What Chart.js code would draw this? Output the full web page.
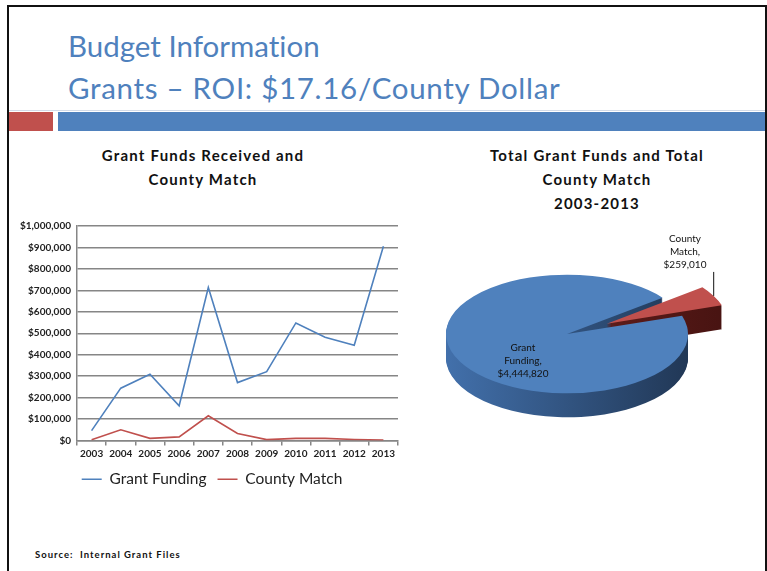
<!DOCTYPE html>
<html>
<head>
<meta charset="utf-8">
<script src="https://cdn.jsdelivr.net/npm/chart.js@4.4.1/dist/chart.umd.min.js"></script>
<style>
  body { margin: 0; width: 767px; height: 571px; background: #fff; position: relative; overflow: hidden; font-family: Lato, sans-serif; font-variant-ligatures: none; }
  #frame { position: absolute; left: 7px; top: 5px; width: 756px; height: 600px; border: 2px solid #111; border-bottom: none; }
  .title { position: absolute; left: 68px; color: #4f81bd; font-size: 29.5px; line-height: 34px; white-space: nowrap; }
  #barRed { position: absolute; left: 9px; top: 112px; width: 44px; height: 19px; background: #c0504d; }
  #barBlue { position: absolute; left: 58px; top: 112px; width: 707px; height: 19px; background: #4f81bd; }
  #barLine { position: absolute; left: 9px; top: 110px; width: 756px; height: 1px; background: #d3dbe8; }
  .ctitle { position: absolute; text-align: center; font-weight: bold; font-size: 15px; letter-spacing: 1.2px; line-height: 24px; color: #111; }
  .plabel { position: absolute; text-align: center; font-size: 10px; line-height: 13px; color: #111; }
  #source { position: absolute; left: 35px; top: 549px; font-size: 9.5px; letter-spacing: 1px; font-weight: bold; color: #111; white-space: pre; }
  #lineBox { position: absolute; left: 0px; top: 214px; width: 415px; height: 285px; }
  #pieBox { position: absolute; left: 420px; top: 200px; width: 340px; height: 270px; }
</style>
</head>
<body>
<div id="frame"></div>
<div class="title" style="top:29px">Budget Information</div>
<div class="title" style="top:71px; letter-spacing:0.7px">Grants – ROI: $17.16/County Dollar</div>
<div id="barLine"></div>
<div id="barRed"></div>
<div id="barBlue"></div>

<div class="ctitle" style="left:50px; width:306px; top:143px">Grant Funds Received and<br>County Match</div>
<div class="ctitle" style="left:457px; width:280px; top:143px">Total Grant Funds and Total<br>County Match<br>2003-2013</div>

<div id="lineBox"><canvas id="lineChart"></canvas></div>
<div id="pieBox"><canvas id="pieChart"></canvas></div>
<div class="plabel" id="lblGrant" style="left:483px; top:341px; width:80px"></div>
<div class="plabel" id="lblCounty" style="left:645px; top:232px; width:80px"></div>

<div id="source">Source:  Internal Grant Files</div>

<script>
// yearly values
const years = ['2003', '2004', '2005', '2006', '2007', '2008', '2009', '2010', '2011', '2012', '2013'];
const grantFunding = [46000, 244000, 309000, 162000, 713000, 270000, 321000, 548000, 481000, 444000, 906000];
const countyMatch = [3000, 50000, 10000, 17000, 115000, 33000, 4000, 10000, 10000, 5000, 2000];

// totals shown in the pie
const pieNames = ['Grant Funding', 'County Match'];
const pieTotals = [4444820, 259010];

const blue = '#4f81bd';
const red = '#c0504d';
const gridGray = '#868686';

function money(v) {
    return '$' + v.toLocaleString('en-US');
}

// let the y labels run into the left padding instead of being clipped
const wideYLabels = {
    id: 'wideYLabels',
    afterLayout(chart) {
        chart.scales.y.left = 0;
    }
};

new Chart(document.getElementById('lineChart'), {
    type: 'line',
    data: {
        labels: years,
        datasets: [
            { label: 'Grant Funding', data: grantFunding, borderColor: blue, backgroundColor: blue, borderWidth: 1.6, pointRadius: 0, tension: 0 },
            { label: 'County Match', data: countyMatch, borderColor: red, backgroundColor: red, borderWidth: 1.6, pointRadius: 0, tension: 0 }
        ]
    },
    options: {
        responsive: true,
        maintainAspectRatio: false,
        animation: false,
        events: [],
        layout: { padding: { top: 8, right: 17, bottom: 2, left: 26 } },
        scales: {
            x: {
                offset: true,
                grid: { display: true, drawOnChartArea: false, drawTicks: true, tickLength: 5, offset: true, color: gridGray, lineWidth: 1.5 },
                border: { color: gridGray, width: 1.5 },
                ticks: { color: '#222', font: { family: 'Lato', size: 10, weight: 'bold' }, padding: 2, maxRotation: 0, autoSkip: false },
                afterFit: s => { s.height = 20; }
            },
            y: {
                min: 0,
                max: 1000000,
                ticks: { stepSize: 100000, callback: v => money(v), color: '#222', font: { family: 'Lato', size: 10, weight: 'bold' }, padding: 6 },
                grid: { color: gridGray, lineWidth: 1.5, drawTicks: false },
                border: { color: gridGray, width: 1.5 },
                afterFit: s => { s.width = 51; }
            }
        },
        plugins: {
            legend: {
                position: 'bottom',
                labels: { usePointStyle: true, pointStyle: 'line', pointStyleWidth: 20, color: '#222', font: { family: 'Lato', size: 15.5 }, padding: 11 }
            },
            tooltip: { enabled: false }
        }
    },
    plugins: [wideYLabels]
});

// pie drawn flat by Chart.js, then squashed and given a side wall
const squash = 0.49;
const depth = 24;
const explode = 45;
const sideColors = [['#4270ab', '#1b2d46'], ['#7a2624', '#461311']];

const pie3d = {
    id: 'pie3d',
    afterDatasetsUpdate(chart) {
        const arc = chart.getDatasetMeta(0).data[1];
        const mid = (arc.startAngle + arc.endAngle) / 2;
        arc.x += Math.cos(mid) * explode;
        arc.y += Math.sin(mid) * explode;
    },
    beforeDatasetsDraw(chart) {
        const ctx = chart.ctx;
        const area = chart.chartArea;
        const cx = (area.left + area.right) / 2, cy = (area.top + area.bottom) / 2;
        const arcs = chart.getDatasetMeta(0).data;
        arcs.forEach((arc, i) => {
            for (let d = depth; d > 0; d--) {
                ctx.save();
                ctx.translate(cx, cy + d);
                ctx.scale(1, squash);
                ctx.translate(-cx, -cy);
                const g = ctx.createLinearGradient(cx - arc.outerRadius, 0, cx + arc.outerRadius + explode, 0);
                g.addColorStop(0, sideColors[i][0]);
                g.addColorStop(1, sideColors[i][1]);
                ctx.beginPath();
                ctx.moveTo(arc.x, arc.y);
                ctx.arc(arc.x, arc.y, arc.outerRadius, arc.startAngle, arc.endAngle);
                ctx.closePath();
                ctx.fillStyle = g;
                ctx.fill();
                ctx.restore();
            }
        });
        ctx.save();
        ctx.translate(cx, cy);
        ctx.scale(1, squash);
        ctx.translate(-cx, -cy);
    },
    afterDatasetsDraw(chart) {
        const ctx = chart.ctx;
        ctx.restore();
        // leader line from the exploded slice up to its label
        const area = chart.chartArea;
        const cy = (area.top + area.bottom) / 2;
        const arc = chart.getDatasetMeta(0).data[1];
        const mid = (arc.startAngle + arc.endAngle) / 2;
        const px = arc.x + Math.cos(mid) * arc.outerRadius;
        const py = cy + (arc.y + Math.sin(mid) * arc.outerRadius - cy) * squash;
        ctx.save();
        ctx.strokeStyle = '#111';
        ctx.lineWidth = 1;
        ctx.beginPath();
        ctx.moveTo(px, py);
        ctx.lineTo(px, py - 24);
        ctx.stroke();
        ctx.restore();
    }
};

new Chart(document.getElementById('pieChart'), {
    type: 'pie',
    data: {
        labels: pieNames,
        datasets: [{ data: pieTotals, backgroundColor: [blue, red], borderWidth: 0, clip: false }]
    },
    options: {
        responsive: true,
        maintainAspectRatio: false,
        animation: false,
        events: [],
        rotation: 72,
        radius: 121,
        layout: { padding: { top: 0, right: 46, bottom: 2, left: 0 } },
        plugins: { legend: { display: false }, tooltip: { enabled: false } }
    },
    plugins: [pie3d]
});

// data labels for the pie
function pieLabel(i) {
    return pieNames[i].split(' ').join('<br>') + ',<br>' + money(pieTotals[i]);
}
document.getElementById('lblGrant').innerHTML = pieLabel(0);
document.getElementById('lblCounty').innerHTML = pieLabel(1);
</script>
</body>
</html>
